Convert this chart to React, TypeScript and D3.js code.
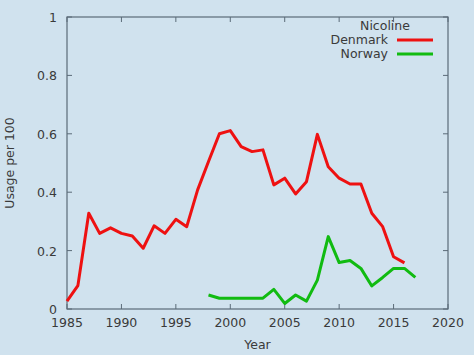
import React, { useEffect } from "react";
import * as d3 from "d3";

const denmarkYears = [1985,1986,1987,1988,1989,1990,1991,1992,1993,1994,1995,1996,1997,1998,1999,2000,2001,2002,2003,2004,2005,2006,2007,2008,2009,2010,2011,2012,2013,2014,2015,2016];
const denmarkValues = [0.027,0.08,0.328,0.259,0.278,0.259,0.25,0.208,0.285,0.259,0.307,0.282,0.408,0.505,0.6,0.611,0.556,0.539,0.545,0.425,0.448,0.394,0.436,0.598,0.487,0.448,0.428,0.428,0.328,0.282,0.179,0.158];
const norwayYears = [1998,1999,2000,2001,2002,2003,2004,2005,2006,2007,2008,2009,2010,2011,2012,2013,2014,2015,2016,2017];
const norwayValues = [0.048,0.037,0.037,0.037,0.037,0.037,0.067,0.019,0.048,0.027,0.099,0.248,0.159,0.166,0.139,0.079,0.108,0.139,0.139,0.108];
const xTicks = [1985,1990,1995,2000,2005,2010,2015,2020];
const yTicks = [0,0.2,0.4,0.6,0.8,1];
const legendTitle = "Nicoline";
const seriesNames = ["Denmark","Norway"];
const seriesColors = ["#ee1111","#11bb11"];

const W = 474, H = 355;
const L = 67, R = 448, T = 17, B = 309;
const axisColor = "#5b6b78";
const textColor = "#3a3a3a";
const font = "DejaVu Sans, sans-serif";
const fs = 12.5;

export default function App() {
  useEffect(() => {
    document.body.style.margin = "0";
    document.body.style.background = "#d0e2ee";
  }, []);
  const x = d3.scaleLinear().domain([1985, 2020]).range([L, R]);
  const y = d3.scaleLinear().domain([0, 1]).range([B, T]);
  const line = d3.line<[number, number]>().x(d => x(d[0])).y(d => y(d[1]));
  const dk = denmarkYears.map((yr, i) => [yr, denmarkValues[i]] as [number, number]);
  const no = norwayYears.map((yr, i) => [yr, norwayValues[i]] as [number, number]);
  const tl = 5;
  return (
    <svg width={W} height={H} style={{ display: "block", background: "#d0e2ee" }} fontFamily={font}>
      <rect x={0} y={0} width={W} height={H} fill="#d0e2ee" />
      <rect x={L} y={T} width={R - L} height={B - T} fill="none" stroke={axisColor} strokeWidth={1.2} />
      {xTicks.map(t => (
        <g key={"x" + t}>
          <line x1={x(t)} x2={x(t)} y1={B} y2={B - tl} stroke={axisColor} />
          <line x1={x(t)} x2={x(t)} y1={T} y2={T + tl} stroke={axisColor} />
          <text x={x(t)} y={B + 18} textAnchor="middle" fontSize={fs} fill={textColor}>{t}</text>
        </g>
      ))}
      {yTicks.map(t => (
        <g key={"y" + t}>
          <line x1={L} x2={L + tl} y1={y(t)} y2={y(t)} stroke={axisColor} />
          <line x1={R} x2={R - tl} y1={y(t)} y2={y(t)} stroke={axisColor} />
          <text x={L - 10} y={y(t) + 5} textAnchor="end" fontSize={fs} fill={textColor}>{d3.format("")(t)}</text>
        </g>
      ))}
      <text x={(L + R) / 2} y={349} textAnchor="middle" fontSize={fs} fill={textColor}>Year</text>
      <text transform={`translate(14,${(T + B) / 2}) rotate(-90)`} textAnchor="middle" fontSize={fs} fill={textColor}>Usage per 100</text>
      <path d={line(dk) || ""} fill="none" stroke={seriesColors[0]} strokeWidth={3} strokeLinejoin="round" />
      <path d={line(no) || ""} fill="none" stroke={seriesColors[1]} strokeWidth={3} strokeLinejoin="round" />
      <text x={385} y={30} textAnchor="middle" fontSize={fs} fill={textColor}>{legendTitle}</text>
      {seriesNames.map((n, i) => (
        <g key={n}>
          <text x={388} y={44 + i * 14} textAnchor="end" fontSize={fs} fill={textColor}>{n}</text>
          <line x1={397} x2={433} y1={40 + i * 14} y2={40 + i * 14} stroke={seriesColors[i]} strokeWidth={3} />
        </g>
      ))}
    </svg>
  );
}
